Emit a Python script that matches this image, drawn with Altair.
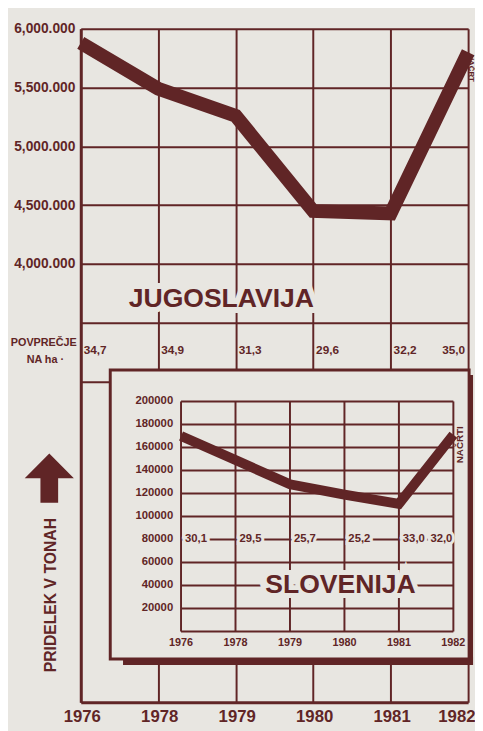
import altair as alt
import pandas as pd

# ---------------- data ----------------
YEARS = ["1976", "1978", "1979", "1980", "1981", "1982"]
YU_TONS = [5880000, 5490000, 5260000, 4450000, 4430000, 5800000]
YU_PER_HA = ["34,7", "34,9", "31,3", "29,6", "32,2", "35,0"]
SI_TONS = [170000, 149000, 128000, 119000, 111000, 171000]
SI_PER_HA = ["30,1", "29,5", "25,7", "25,2", "33,0", "32,0"]
YU_TICKS = [3000000, 3500000, 4000000, 4500000, 5000000, 5500000, 6000000]
SI_TICKS = [0, 20000, 40000, 60000, 80000, 100000, 120000, 140000, 160000, 180000, 200000]

INK = "#602526"
BG = "#e8e6e1"
FONT = "Liberation Sans"

W, H = 394, 685

yu = pd.DataFrame({"year": YEARS, "tons": YU_TONS, "ha": YU_PER_HA})
si = pd.DataFrame({"year": YEARS, "tons": SI_TONS, "ha": SI_PER_HA})
si_ticks = pd.DataFrame({"v": SI_TICKS})
si_labels = pd.DataFrame({"v": SI_TICKS[1:]})
one = alt.Data(values=[{}])

# ---------------- outer chart (Jugoslavija) ----------------
xo_scale = alt.Scale(type="point", domain=YEARS, padding=0)
yo_scale = alt.Scale(domain=[270000, 6000000], nice=False, zero=False)

x_axis = alt.Axis(
    title=None, grid=True, gridColor=INK, gridWidth=2, domainColor=INK, domainWidth=3,
    ticks=False, labelFont=FONT, labelFontSize=17, labelFontWeight="bold", labelColor=INK,
    labelPadding=7, labelAngle=0,
    labelAlign={"condition": {"test": "datum.value == '1982'", "value": "right"}, "value": "center"},
    labelOffset={"condition": {"test": "datum.value == '1982'", "value": 7}, "value": 1},
)
y_axis = alt.Axis(
    title=None, values=YU_TICKS, grid=True, gridColor=INK, gridWidth=2,
    domainColor=INK, domainWidth=3, ticks=False, labelFont=FONT, labelFontSize=14,
    labelFontWeight="bold", labelColor=INK, labelPadding=6,
    labelExpr=("datum.value >= 4000000 ? slice(format(datum.value, ','), 0, -4) + '.' + "
               "slice(format(datum.value, ','), -3) : ''"),
)

yu_line = alt.Chart(yu).mark_line(
    color=INK, strokeWidth=14, strokeJoin="miter", strokeCap="butt"
).encode(
    x=alt.X("year:N", scale=xo_scale, axis=x_axis),
    y=alt.Y("tons:Q", scale=yo_scale, axis=y_axis),
)

yu_ha_a = alt.Chart(yu).transform_filter("datum.year != '1982'").mark_text(
    align="left", baseline="middle", dx=3, font=FONT, fontSize=12, fontWeight="bold", color=INK
).encode(x=alt.X("year:N", scale=xo_scale), y=alt.value(327), text="ha:N")
yu_ha_b = alt.Chart(yu).transform_filter("datum.year == '1982'").mark_text(
    align="right", baseline="middle", dx=-3, font=FONT, fontSize=12, fontWeight="bold", color=INK
).encode(x=alt.X("year:N", scale=xo_scale), y=alt.value(327), text="ha:N")

pov1 = alt.Chart(one).mark_text(
    text="POVPREČJE", align="right", baseline="middle", font=FONT, fontSize=11,
    fontWeight="bold", color=INK
).encode(x=alt.value(-4), y=alt.value(320))
pov2 = alt.Chart(one).mark_text(
    text="NA ha  ·", align="center", baseline="middle", font=FONT, fontSize=11,
    fontWeight="bold", color=INK
).encode(x=alt.value(-36), y=alt.value(337))

jug_halo = alt.Chart(one).mark_text(
    text="JUGOSLAVIJA", align="center", baseline="middle", font=FONT, fontSize=27,
    fontWeight="bold", color=BG, stroke=BG, strokeWidth=12
).encode(x=alt.value(143), y=alt.value(275))
jug = alt.Chart(one).mark_text(
    text="JUGOSLAVIJA", align="center", baseline="middle", font=FONT, fontSize=27,
    fontWeight="bold", color=INK
).encode(x=alt.value(143), y=alt.value(275))

arrow_path = "M0,-1 L1,0 L0.36,0 L0.36,1 L-0.36,1 L-0.36,0 L-1,0 Z"
arrow = alt.Chart(one).mark_point(
    shape=arrow_path, filled=True, fill=INK, fillOpacity=1, strokeWidth=0, size=2500
).encode(x=alt.value(-32), y=alt.value(457))
ylabel = alt.Chart(one).mark_text(
    text="PRIDELEK V TONAH", angle=270, align="center", baseline="middle", font=FONT,
    fontSize=16, fontWeight="bold", color=INK
).encode(x=alt.value(-30), y=alt.value(576))

nacrt_out = alt.Chart(one).mark_text(
    text="NAČRT", angle=90, align="center", baseline="middle", font=FONT,
    fontSize=8, fontWeight="bold", color=INK
).encode(x=alt.value(397), y=alt.value(40))

outer = alt.layer(yu_line, yu_ha_a, yu_ha_b, pov1, pov2, jug_halo, jug, arrow, ylabel, nacrt_out)

# ---------------- inset chart (Slovenija) ----------------
xi_scale = alt.Scale(type="point", domain=YEARS, padding=0, range=[102, 379])
yi_scale = alt.Scale(domain=[0, 200000], nice=False, zero=True, range=[613, 379])


def xi(field=None, datum=None):
    if datum is not None:
        return alt.X(datum=datum, type="nominal", scale=xi_scale, axis=None)
    return alt.X(field, type="nominal", scale=xi_scale, axis=None)


def yi(field=None, datum=None):
    if datum is not None:
        return alt.Y(datum=datum, type="quantitative", scale=yi_scale, axis=None)
    return alt.Y(field, type="quantitative", scale=yi_scale, axis=None)


shadow_b = alt.Chart(one).mark_rect(color=INK).encode(
    x=alt.value(43), x2=alt.value(399), y=alt.value(639), y2=alt.value(647))
shadow_r = alt.Chart(one).mark_rect(color=INK).encode(
    x=alt.value(393), x2=alt.value(399), y=alt.value(352), y2=alt.value(647))
frame = alt.Chart(one).mark_rect(fill=BG, stroke=INK, strokeWidth=3).encode(
    x=alt.value(30), x2=alt.value(395), y=alt.value(347), y2=alt.value(641))

h_grid = alt.Chart(si_ticks).mark_rule(color=INK, strokeWidth=2).encode(
    y=yi("v"), x=xi(datum="1976"), x2=alt.X2(datum="1982"))
v_grid = alt.Chart(si).mark_rule(color=INK, strokeWidth=2).encode(
    x=xi("year"), y=yi(datum=0), y2=alt.Y2(datum=200000))

si_ylab = alt.Chart(si_labels).mark_text(
    align="right", baseline="middle", dx=-8, font=FONT, fontSize=11.5, fontWeight="bold", color=INK
).encode(x=xi(datum="1976"), y=yi("v"), text=alt.Text("v:Q", format="d"))
si_xlab = alt.Chart(si).mark_text(
    align="center", baseline="middle", dy=12, font=FONT, fontSize=11, fontWeight="bold", color=INK
).encode(x=xi("year"), y=yi(datum=0), text="year:N")

si_line = alt.Chart(si).mark_line(
    color=INK, strokeWidth=10, strokeJoin="miter", strokeCap="butt"
).encode(x=xi("year"), y=yi("tons"))

ha_style = dict(baseline="middle", font=FONT, fontSize=11.5, fontWeight="bold")
si_ha_halo_a = alt.Chart(si).transform_filter("datum.year != '1982'").mark_text(
    align="left", dx=4, color=BG, stroke=BG, strokeWidth=6, **ha_style
).encode(x=xi("year"), y=yi(datum=80000), text="ha:N")
si_ha_a = alt.Chart(si).transform_filter("datum.year != '1982'").mark_text(
    align="left", dx=4, color=INK, **ha_style
).encode(x=xi("year"), y=yi(datum=80000), text="ha:N")
si_ha_halo_b = alt.Chart(si).transform_filter("datum.year == '1982'").mark_text(
    align="right", dx=-1, color=BG, stroke=BG, strokeWidth=6, **ha_style
).encode(x=xi("year"), y=yi(datum=80000), text="ha:N")
si_ha_b = alt.Chart(si).transform_filter("datum.year == '1982'").mark_text(
    align="right", dx=-1, color=INK, **ha_style
).encode(x=xi("year"), y=yi(datum=80000), text="ha:N")

slo_halo = alt.Chart(one).mark_text(
    text="SLOVENIJA", align="center", baseline="middle", font=FONT, fontSize=27,
    fontWeight="bold", color=BG, stroke=BG, strokeWidth=10, dx=-4
).encode(x=xi(datum="1980"), y=yi(datum=40000))
slo = alt.Chart(one).mark_text(
    text="SLOVENIJA", align="center", baseline="middle", font=FONT, fontSize=27,
    fontWeight="bold", color=INK, dx=-4
).encode(x=xi(datum="1980"), y=yi(datum=40000))

nacrti = alt.Chart(one).mark_text(
    text="NAČRTI", angle=270, align="center", baseline="middle", font=FONT,
    fontSize=10, fontWeight="bold", color=INK
).encode(x=alt.value(386), y=alt.value(423))

inset = alt.layer(
    shadow_b, shadow_r, frame, h_grid, v_grid, si_ylab, si_xlab, si_line,
    si_ha_halo_a, si_ha_a, si_ha_halo_b, si_ha_b, slo_halo, slo, nacrti
)

chart = alt.layer(outer, inset).resolve_scale(
    x="independent", y="independent"
).properties(
    width=W, height=H, background=BG,
    padding={"left": 74, "top": 15, "right": 7, "bottom": 23},
    autosize=alt.AutoSizeParams(type="none"),
).configure_view(stroke=None)

chart.save("out.html", embed_options={"renderer": "svg", "actions": False})
